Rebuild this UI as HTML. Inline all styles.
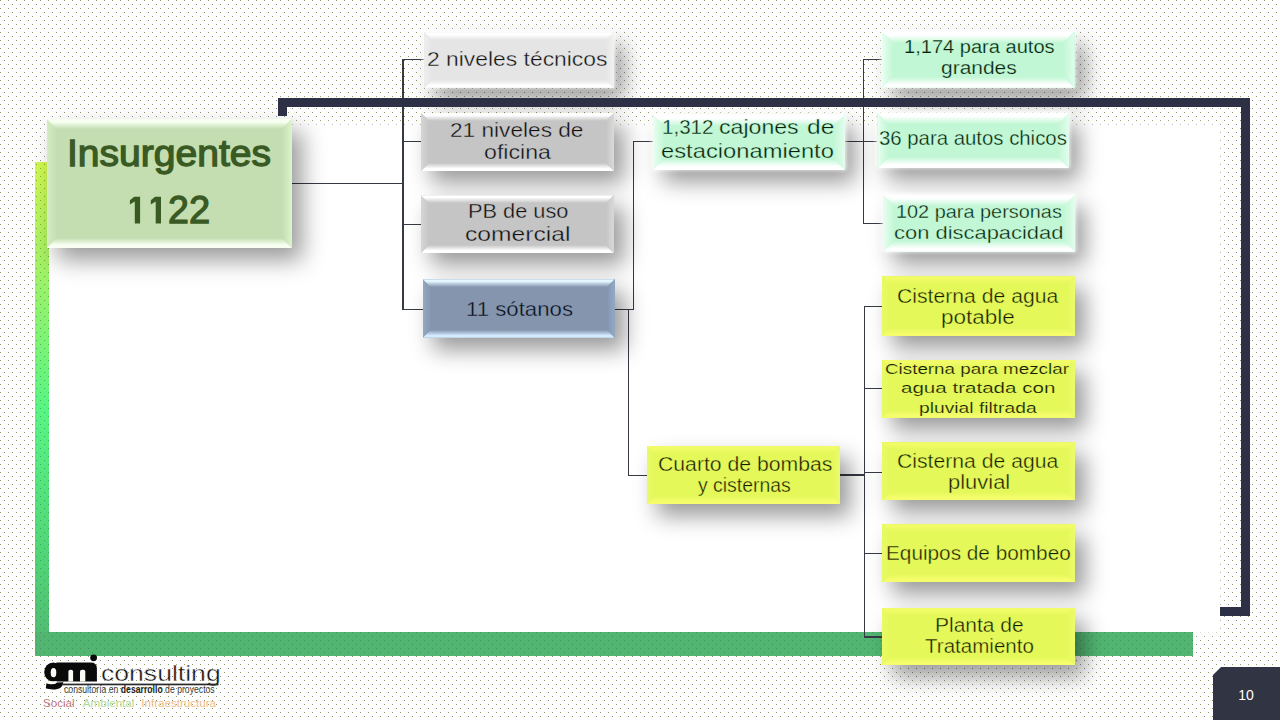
<!DOCTYPE html>
<html><head><meta charset="utf-8">
<style>
html,body{margin:0;padding:0;}
body{width:1280px;height:720px;overflow:hidden;position:relative;background:#fff;font-family:"Liberation Sans",sans-serif;}
.a{position:absolute;}
.t{position:absolute;white-space:nowrap;line-height:0;transform-origin:0 0;}
.bx{position:absolute;box-sizing:border-box;}
.bv{position:absolute;left:0;top:0;right:0;bottom:0;}
.ln{position:absolute;background:#363a44;}
</style></head><body>

<svg class="a" style="left:0;top:0" width="1280" height="720">
<defs><pattern id="dots" x="0" y="0" width="8" height="8" patternUnits="userSpaceOnUse">
<rect x="0" y="0" width="1" height="1" fill="#7a8542"/><rect x="4" y="4" width="1" height="1" fill="#737a58"/>
</pattern></defs>
<rect width="1280" height="720" fill="url(#dots)" opacity="0.85"/>
</svg>

<div class="a" style="left:49px;top:127px;width:1168px;height:505px;background:#fff;box-shadow:0 0 6px 2px #fff"></div>
<div class="a" style="left:35px;top:162px;width:14px;height:494px;background:linear-gradient(180deg,#d2f84e 0%,#a2f166 22%,#58f584 50%,#50d276 82%,#52b672 100%)"></div>
<div class="a" style="left:35px;top:632px;width:1158px;height:24px;background:#52b672"></div>
<svg class="a" style="left:0;top:0" width="1280" height="720"><defs><pattern id="dots2" x="0" y="0" width="8" height="8" patternUnits="userSpaceOnUse"><rect x="0" y="0" width="1" height="1" fill="#2f7a3a"/><rect x="4" y="4" width="1" height="1" fill="#2f7a3a"/></pattern></defs><path d="M35 162 H49 V632 H1193 V656 H35 Z" fill="url(#dots2)" opacity="0.55"/></svg>
<div class="a" style="left:1213px;top:667px;width:67px;height:53px;background:#313443;clip-path:polygon(8px 0,100% 0,100% 100%,0 100%,0 8px)"></div>
<div class="t" style="left:1238.3px;top:695.2px;font-size:14px;color:#fff">10</div>
<div class="ln" style="left:292px;top:182.7px;width:111.6px;height:1.2px"></div>
<div class="ln" style="left:403px;top:58.9px;width:21.6px;height:1.2px"></div>
<div class="ln" style="left:403px;top:141px;width:18.6px;height:1.2px"></div>
<div class="ln" style="left:403px;top:223.6px;width:18.6px;height:1.2px"></div>
<div class="ln" style="left:403px;top:308.8px;width:20.6px;height:1.2px"></div>
<div class="ln" style="left:614.5px;top:308.6px;width:19.4px;height:1.2px"></div>
<div class="ln" style="left:633.3px;top:141.1px;width:19.8px;height:1.2px"></div>
<div class="ln" style="left:628.5px;top:475px;width:18.7px;height:1.2px"></div>
<div class="ln" style="left:845px;top:141px;width:19.1px;height:1.2px"></div>
<div class="ln" style="left:863.5px;top:58.7px;width:18.6px;height:1.2px"></div>
<div class="ln" style="left:863.5px;top:141px;width:14.5px;height:1.2px"></div>
<div class="ln" style="left:863.5px;top:222.7px;width:20.1px;height:1.2px"></div>
<div class="ln" style="left:839.8px;top:474.4px;width:25.2px;height:1.2px"></div>
<div class="ln" style="left:864.4px;top:305.6px;width:18.2px;height:1.2px"></div>
<div class="ln" style="left:864.4px;top:388.3px;width:18.2px;height:1.2px"></div>
<div class="ln" style="left:864.4px;top:471.7px;width:18.2px;height:1.2px"></div>
<div class="ln" style="left:864.4px;top:553.1px;width:18.2px;height:1.2px"></div>
<div class="ln" style="left:864.4px;top:636.4px;width:18.2px;height:1.2px"></div>
<div class="ln" style="left:402.4px;top:58.9px;width:1.2px;height:251.1px"></div>
<div class="ln" style="left:632.7px;top:141.1px;width:1.2px;height:168.7px"></div>
<div class="ln" style="left:627.9px;top:308.6px;width:1.2px;height:167.6px"></div>
<div class="ln" style="left:862.9px;top:58.7px;width:1.2px;height:165.2px"></div>
<div class="ln" style="left:863.8px;top:305.6px;width:1.2px;height:332px"></div>
<div class="bx" style="left:46.5px;top:119px;width:245.5px;height:129px;background:#c4deb1;box-shadow:10px 12px 22px rgba(0,0,0,0.4)">
<div class="bv" style="clip-path:polygon(0 0,100% 0,calc(100% - 10px) 10px,10px 10px);background:linear-gradient(180deg,#f6fff0 0,#f6fff0 3.0px,#c4deb1 10px)"></div>
<div class="bv" style="clip-path:polygon(0 100%,100% 100%,calc(100% - 10px) calc(100% - 10px),10px calc(100% - 10px));background:linear-gradient(0deg,#f8fff2 0,#f8fff2 3.0px,#c4deb1 10px)"></div>
<div class="bv" style="clip-path:polygon(0 0,10px 10px,10px calc(100% - 10px),0 100%);background:linear-gradient(90deg,#d4ecc2 0,#c4deb1 10px)"></div>
<div class="bv" style="clip-path:polygon(100% 0,calc(100% - 10px) 10px,calc(100% - 10px) calc(100% - 10px),100% 100%);background:linear-gradient(270deg,#dcf4cc 0,#c4deb1 10px)"></div>
</div>
<div class="bx" style="left:424.4px;top:32.2px;width:189.6px;height:55.6px;background:#e5e5e5;box-shadow:0 -1px 4px 1px rgba(255,255,255,.9),10px 12px 22px rgba(0,0,0,0.4)">
<div class="bv" style="clip-path:polygon(0 0,100% 0,calc(100% - 8px) 8px,8px 8px);background:linear-gradient(180deg,#ffffff 0,#ffffff 2.4px,#e5e5e5 8px)"></div>
<div class="bv" style="clip-path:polygon(0 100%,100% 100%,calc(100% - 8px) calc(100% - 8px),8px calc(100% - 8px));background:linear-gradient(0deg,#ffffff 0,#ffffff 2.4px,#e5e5e5 8px)"></div>
<div class="bv" style="clip-path:polygon(0 0,8px 8px,8px calc(100% - 8px),0 100%);background:linear-gradient(90deg,#efefef 0,#e5e5e5 8px)"></div>
<div class="bv" style="clip-path:polygon(100% 0,calc(100% - 8px) 8px,calc(100% - 8px) calc(100% - 8px),100% 100%);background:linear-gradient(270deg,#f2f2f2 0,#e5e5e5 8px)"></div>
</div>
<div class="bx" style="left:421px;top:113px;width:193px;height:58px;background:#c5c5c5;box-shadow:10px 12px 22px rgba(0,0,0,0.4)">
<div class="bv" style="clip-path:polygon(0 0,100% 0,calc(100% - 8px) 8px,8px 8px);background:linear-gradient(180deg,#ffffff 0,#ffffff 2.4px,#c5c5c5 8px)"></div>
<div class="bv" style="clip-path:polygon(0 100%,100% 100%,calc(100% - 8px) calc(100% - 8px),8px calc(100% - 8px));background:linear-gradient(0deg,#ffffff 0,#ffffff 2.4px,#c5c5c5 8px)"></div>
<div class="bv" style="clip-path:polygon(0 0,8px 8px,8px calc(100% - 8px),0 100%);background:linear-gradient(90deg,#d6d6d6 0,#c5c5c5 8px)"></div>
<div class="bv" style="clip-path:polygon(100% 0,calc(100% - 8px) 8px,calc(100% - 8px) calc(100% - 8px),100% 100%);background:linear-gradient(270deg,#dadada 0,#c5c5c5 8px)"></div>
</div>
<div class="bx" style="left:420.7px;top:195.3px;width:193.1px;height:57.9px;background:#c5c5c5;box-shadow:10px 12px 22px rgba(0,0,0,0.4)">
<div class="bv" style="clip-path:polygon(0 0,100% 0,calc(100% - 8px) 8px,8px 8px);background:linear-gradient(180deg,#ffffff 0,#ffffff 2.4px,#c5c5c5 8px)"></div>
<div class="bv" style="clip-path:polygon(0 100%,100% 100%,calc(100% - 8px) calc(100% - 8px),8px calc(100% - 8px));background:linear-gradient(0deg,#ffffff 0,#ffffff 2.4px,#c5c5c5 8px)"></div>
<div class="bv" style="clip-path:polygon(0 0,8px 8px,8px calc(100% - 8px),0 100%);background:linear-gradient(90deg,#d6d6d6 0,#c5c5c5 8px)"></div>
<div class="bv" style="clip-path:polygon(100% 0,calc(100% - 8px) 8px,calc(100% - 8px) calc(100% - 8px),100% 100%);background:linear-gradient(270deg,#dadada 0,#c5c5c5 8px)"></div>
</div>
<div class="bx" style="left:422.6px;top:279.2px;width:192.2px;height:58.5px;background:#8595ad;box-shadow:10px 12px 22px rgba(0,0,0,0.4)">
<div class="bv" style="clip-path:polygon(0 0,100% 0,calc(100% - 8px) 8px,8px 8px);background:linear-gradient(180deg,#e4f6ff 0,#e4f6ff 2.4px,#8595ad 8px)"></div>
<div class="bv" style="clip-path:polygon(0 100%,100% 100%,calc(100% - 8px) calc(100% - 8px),8px calc(100% - 8px));background:linear-gradient(0deg,#d4ecff 0,#d4ecff 2.4px,#8595ad 8px)"></div>
<div class="bv" style="clip-path:polygon(0 0,8px 8px,8px calc(100% - 8px),0 100%);background:linear-gradient(90deg,#95a9c2 0,#8595ad 8px)"></div>
<div class="bv" style="clip-path:polygon(100% 0,calc(100% - 8px) 8px,calc(100% - 8px) calc(100% - 8px),100% 100%);background:linear-gradient(270deg,#93abc9 0,#8595ad 8px)"></div>
</div>
<div class="bx" style="left:652.5px;top:114.5px;width:192.5px;height:55.8px;background:#c2f7d5;box-shadow:0 -1px 4px 1px rgba(255,255,255,.9),10px 12px 22px rgba(0,0,0,0.4)">
<div class="bv" style="clip-path:polygon(0 0,100% 0,calc(100% - 11px) 11px,11px 11px);background:linear-gradient(180deg,#ffffff 0,#ffffff 3.3px,#c2f7d5 11px)"></div>
<div class="bv" style="clip-path:polygon(0 100%,100% 100%,calc(100% - 11px) calc(100% - 11px),11px calc(100% - 11px));background:linear-gradient(0deg,#ffffff 0,#ffffff 3.3px,#c2f7d5 11px)"></div>
<div class="bv" style="clip-path:polygon(0 0,11px 11px,11px calc(100% - 11px),0 100%);background:linear-gradient(90deg,#eafff2 0,#c2f7d5 11px)"></div>
<div class="bv" style="clip-path:polygon(100% 0,calc(100% - 11px) 11px,calc(100% - 11px) calc(100% - 11px),100% 100%);background:linear-gradient(270deg,#e4fdee 0,#c2f7d5 11px)"></div>
</div>
<div class="bx" style="left:646.6px;top:445.7px;width:193.2px;height:58.3px;background:#e4f85a;box-shadow:10px 12px 22px rgba(0,0,0,0.4)">
<div class="bv" style="clip-path:polygon(0 0,100% 0,calc(100% - 8px) 8px,8px 8px);background:linear-gradient(180deg,#f2fb68 0,#f2fb68 2.4px,#e4f85a 8px)"></div>
<div class="bv" style="clip-path:polygon(0 100%,100% 100%,calc(100% - 8px) calc(100% - 8px),8px calc(100% - 8px));background:linear-gradient(0deg,#f5fd6c 0,#f5fd6c 2.4px,#e4f85a 8px)"></div>
<div class="bv" style="clip-path:polygon(0 0,8px 8px,8px calc(100% - 8px),0 100%);background:linear-gradient(90deg,#e9fa66 0,#e4f85a 8px)"></div>
<div class="bv" style="clip-path:polygon(100% 0,calc(100% - 8px) 8px,calc(100% - 8px) calc(100% - 8px),100% 100%);background:linear-gradient(270deg,#edfb6c 0,#e4f85a 8px)"></div>
</div>
<div class="bx" style="left:881.5px;top:31.5px;width:193px;height:56.3px;background:#c2f7d5;box-shadow:0 -1px 4px 1px rgba(255,255,255,.9),10px 12px 22px rgba(0,0,0,0.4)">
<div class="bv" style="clip-path:polygon(0 0,100% 0,calc(100% - 11px) 11px,11px 11px);background:linear-gradient(180deg,#ffffff 0,#ffffff 3.3px,#c2f7d5 11px)"></div>
<div class="bv" style="clip-path:polygon(0 100%,100% 100%,calc(100% - 11px) calc(100% - 11px),11px calc(100% - 11px));background:linear-gradient(0deg,#ffffff 0,#ffffff 3.3px,#c2f7d5 11px)"></div>
<div class="bv" style="clip-path:polygon(0 0,11px 11px,11px calc(100% - 11px),0 100%);background:linear-gradient(90deg,#eafff2 0,#c2f7d5 11px)"></div>
<div class="bv" style="clip-path:polygon(100% 0,calc(100% - 11px) 11px,calc(100% - 11px) calc(100% - 11px),100% 100%);background:linear-gradient(270deg,#e4fdee 0,#c2f7d5 11px)"></div>
</div>
<div class="bx" style="left:877.4px;top:113px;width:191.9px;height:55.4px;background:#c2f7d5;box-shadow:0 -1px 4px 1px rgba(255,255,255,.9),10px 12px 22px rgba(0,0,0,0.4)">
<div class="bv" style="clip-path:polygon(0 0,100% 0,calc(100% - 11px) 11px,11px 11px);background:linear-gradient(180deg,#ffffff 0,#ffffff 3.3px,#c2f7d5 11px)"></div>
<div class="bv" style="clip-path:polygon(0 100%,100% 100%,calc(100% - 11px) calc(100% - 11px),11px calc(100% - 11px));background:linear-gradient(0deg,#ffffff 0,#ffffff 3.3px,#c2f7d5 11px)"></div>
<div class="bv" style="clip-path:polygon(0 0,11px 11px,11px calc(100% - 11px),0 100%);background:linear-gradient(90deg,#eafff2 0,#c2f7d5 11px)"></div>
<div class="bv" style="clip-path:polygon(100% 0,calc(100% - 11px) 11px,calc(100% - 11px) calc(100% - 11px),100% 100%);background:linear-gradient(270deg,#e4fdee 0,#c2f7d5 11px)"></div>
</div>
<div class="bx" style="left:883.1px;top:195px;width:192.2px;height:56.8px;background:#c2f7d5;box-shadow:0 -1px 4px 1px rgba(255,255,255,.9),10px 12px 22px rgba(0,0,0,0.4)">
<div class="bv" style="clip-path:polygon(0 0,100% 0,calc(100% - 11px) 11px,11px 11px);background:linear-gradient(180deg,#ffffff 0,#ffffff 3.3px,#c2f7d5 11px)"></div>
<div class="bv" style="clip-path:polygon(0 100%,100% 100%,calc(100% - 11px) calc(100% - 11px),11px calc(100% - 11px));background:linear-gradient(0deg,#ffffff 0,#ffffff 3.3px,#c2f7d5 11px)"></div>
<div class="bv" style="clip-path:polygon(0 0,11px 11px,11px calc(100% - 11px),0 100%);background:linear-gradient(90deg,#eafff2 0,#c2f7d5 11px)"></div>
<div class="bv" style="clip-path:polygon(100% 0,calc(100% - 11px) 11px,calc(100% - 11px) calc(100% - 11px),100% 100%);background:linear-gradient(270deg,#e4fdee 0,#c2f7d5 11px)"></div>
</div>
<div class="bx" style="left:882px;top:276.4px;width:192.9px;height:59.3px;background:#e4f85a;box-shadow:10px 12px 22px rgba(0,0,0,0.4)">
<div class="bv" style="clip-path:polygon(0 0,100% 0,calc(100% - 8px) 8px,8px 8px);background:linear-gradient(180deg,#f2fb68 0,#f2fb68 2.4px,#e4f85a 8px)"></div>
<div class="bv" style="clip-path:polygon(0 100%,100% 100%,calc(100% - 8px) calc(100% - 8px),8px calc(100% - 8px));background:linear-gradient(0deg,#f5fd6c 0,#f5fd6c 2.4px,#e4f85a 8px)"></div>
<div class="bv" style="clip-path:polygon(0 0,8px 8px,8px calc(100% - 8px),0 100%);background:linear-gradient(90deg,#e9fa66 0,#e4f85a 8px)"></div>
<div class="bv" style="clip-path:polygon(100% 0,calc(100% - 8px) 8px,calc(100% - 8px) calc(100% - 8px),100% 100%);background:linear-gradient(270deg,#edfb6c 0,#e4f85a 8px)"></div>
</div>
<div class="bx" style="left:882.4px;top:360px;width:192.5px;height:57.7px;background:#e4f85a;box-shadow:10px 12px 22px rgba(0,0,0,0.4)">
<div class="bv" style="clip-path:polygon(0 0,100% 0,calc(100% - 8px) 8px,8px 8px);background:linear-gradient(180deg,#f2fb68 0,#f2fb68 2.4px,#e4f85a 8px)"></div>
<div class="bv" style="clip-path:polygon(0 100%,100% 100%,calc(100% - 8px) calc(100% - 8px),8px calc(100% - 8px));background:linear-gradient(0deg,#f5fd6c 0,#f5fd6c 2.4px,#e4f85a 8px)"></div>
<div class="bv" style="clip-path:polygon(0 0,8px 8px,8px calc(100% - 8px),0 100%);background:linear-gradient(90deg,#e9fa66 0,#e4f85a 8px)"></div>
<div class="bv" style="clip-path:polygon(100% 0,calc(100% - 8px) 8px,calc(100% - 8px) calc(100% - 8px),100% 100%);background:linear-gradient(270deg,#edfb6c 0,#e4f85a 8px)"></div>
</div>
<div class="bx" style="left:882px;top:442.4px;width:193px;height:58.1px;background:#e4f85a;box-shadow:10px 12px 22px rgba(0,0,0,0.4)">
<div class="bv" style="clip-path:polygon(0 0,100% 0,calc(100% - 8px) 8px,8px 8px);background:linear-gradient(180deg,#f2fb68 0,#f2fb68 2.4px,#e4f85a 8px)"></div>
<div class="bv" style="clip-path:polygon(0 100%,100% 100%,calc(100% - 8px) calc(100% - 8px),8px calc(100% - 8px));background:linear-gradient(0deg,#f5fd6c 0,#f5fd6c 2.4px,#e4f85a 8px)"></div>
<div class="bv" style="clip-path:polygon(0 0,8px 8px,8px calc(100% - 8px),0 100%);background:linear-gradient(90deg,#e9fa66 0,#e4f85a 8px)"></div>
<div class="bv" style="clip-path:polygon(100% 0,calc(100% - 8px) 8px,calc(100% - 8px) calc(100% - 8px),100% 100%);background:linear-gradient(270deg,#edfb6c 0,#e4f85a 8px)"></div>
</div>
<div class="bx" style="left:882.4px;top:524.4px;width:193.1px;height:58.1px;background:#e4f85a;box-shadow:10px 12px 22px rgba(0,0,0,0.4)">
<div class="bv" style="clip-path:polygon(0 0,100% 0,calc(100% - 8px) 8px,8px 8px);background:linear-gradient(180deg,#f2fb68 0,#f2fb68 2.4px,#e4f85a 8px)"></div>
<div class="bv" style="clip-path:polygon(0 100%,100% 100%,calc(100% - 8px) calc(100% - 8px),8px calc(100% - 8px));background:linear-gradient(0deg,#f5fd6c 0,#f5fd6c 2.4px,#e4f85a 8px)"></div>
<div class="bv" style="clip-path:polygon(0 0,8px 8px,8px calc(100% - 8px),0 100%);background:linear-gradient(90deg,#e9fa66 0,#e4f85a 8px)"></div>
<div class="bv" style="clip-path:polygon(100% 0,calc(100% - 8px) 8px,calc(100% - 8px) calc(100% - 8px),100% 100%);background:linear-gradient(270deg,#edfb6c 0,#e4f85a 8px)"></div>
</div>
<div class="bx" style="left:882px;top:608px;width:193px;height:57.3px;background:#e4f85a;box-shadow:10px 12px 22px rgba(0,0,0,0.4)">
<div class="bv" style="clip-path:polygon(0 0,100% 0,calc(100% - 8px) 8px,8px 8px);background:linear-gradient(180deg,#f2fb68 0,#f2fb68 2.4px,#e4f85a 8px)"></div>
<div class="bv" style="clip-path:polygon(0 100%,100% 100%,calc(100% - 8px) calc(100% - 8px),8px calc(100% - 8px));background:linear-gradient(0deg,#f5fd6c 0,#f5fd6c 2.4px,#e4f85a 8px)"></div>
<div class="bv" style="clip-path:polygon(0 0,8px 8px,8px calc(100% - 8px),0 100%);background:linear-gradient(90deg,#e9fa66 0,#e4f85a 8px)"></div>
<div class="bv" style="clip-path:polygon(100% 0,calc(100% - 8px) 8px,calc(100% - 8px) calc(100% - 8px),100% 100%);background:linear-gradient(270deg,#edfb6c 0,#e4f85a 8px)"></div>
</div>
<div class="a" style="left:278px;top:98px;width:972px;height:9px;background:#2e3146"></div>
<div class="a" style="left:278px;top:98px;width:9px;height:17.5px;background:#2e3146"></div>
<div class="a" style="left:1241px;top:98px;width:9px;height:517.5px;background:#2e3146"></div>
<div class="a" style="left:1220px;top:607px;width:30px;height:8.5px;background:#2e3146"></div>
<div class="t" style="left:63.5px;top:690.133px;font-size:10px;color:#3a3a3a;transform:scaleX(0.866)"><span>consultoría en </span><b style="color:#222">desarrollo</b><span> de proyectos</span></div>
<div class="t" style="left:43.0px;top:703.0782800000001px;font-size:11.6px;color:#c27480">Social</div>
<div class="t" style="left:82.80000000000001px;top:703.0782800000001px;font-size:11.6px;color:#b3d995">Ambiental</div>
<div class="t" style="left:141.3px;top:703.0782800000001px;font-size:11.6px;color:#efbc88">Infraestructura</div>
<div class="t" style="left:66.67px;top:153.57px;font-size:37px;color:#3a5a24;-webkit-text-stroke:1.3px #3a5a24;transform:scaleX(1.0553)">Insurgentes</div>
<div class="t" style="left:168.06px;top:210.25px;font-size:38.5px;color:#3a5a24;-webkit-text-stroke:1.3px #3a5a24;transform:scaleX(0.9725)">2</div>
<div class="t" style="left:189.14px;top:210.25px;font-size:38.5px;color:#3a5a24;-webkit-text-stroke:1.3px #3a5a24;transform:scaleX(0.9884)">2</div>
<div class="t" style="left:427.46px;top:58.66px;font-size:20.6px;color:#111111;-webkit-text-stroke:0.35px #e5e5e5;transform:scaleX(1.1101)">2 niveles técnicos</div>
<div class="t" style="left:450.37px;top:129.76px;font-size:20.6px;color:#111111;-webkit-text-stroke:0.35px #c5c5c5;transform:scaleX(1.0995)">21 niveles de</div>
<div class="t" style="left:484.07px;top:152.26px;font-size:20.6px;color:#111111;-webkit-text-stroke:0.35px #c5c5c5;transform:scaleX(1.1242)">oficina</div>
<div class="t" style="left:467.56px;top:211.26px;font-size:20.6px;color:#111111;-webkit-text-stroke:0.35px #c5c5c5;transform:scaleX(1.0573)">PB de uso</div>
<div class="t" style="left:464.81px;top:234.46px;font-size:20.6px;color:#111111;-webkit-text-stroke:0.35px #c5c5c5;transform:scaleX(1.1967)">comercial</div>
<div class="t" style="left:466.03px;top:308.76px;font-size:20.6px;color:#081020;-webkit-text-stroke:0.35px #8595ad;transform:scaleX(1.0781)">11 sótanos</div>
<div class="t" style="left:661.66px;top:127.46px;font-size:20.6px;color:#03200c;-webkit-text-stroke:0.35px #c2f7d5;transform:scaleX(0.9995)">1,312</div>
<div class="t" style="left:718.68px;top:127.46px;font-size:20.6px;color:#03200c;-webkit-text-stroke:0.35px #c2f7d5;transform:scaleX(1.1221)">cajones</div>
<div class="t" style="left:806.92px;top:127.46px;font-size:20.6px;color:#03200c;-webkit-text-stroke:0.35px #c2f7d5;transform:scaleX(1.1935)">de</div>
<div class="t" style="left:661.15px;top:151.16px;font-size:20.6px;color:#03200c;-webkit-text-stroke:0.35px #c2f7d5;transform:scaleX(1.1529)">estacionamiento</div>
<div class="t" style="left:658.34px;top:463.87px;font-size:20px;color:#161c02;-webkit-text-stroke:0.35px #e4f85a;transform:scaleX(1.0602)">Cuarto de bombas</div>
<div class="t" style="left:698.1px;top:484.77px;font-size:20px;color:#161c02;-webkit-text-stroke:0.35px #e4f85a;transform:scaleX(0.9694)">y cisternas</div>
<div class="t" style="left:904.29px;top:47.3px;font-size:17.6px;color:#03200c;-webkit-text-stroke:0.25px #c2f7d5;transform:scaleX(1.1402)">1,174 para autos</div>
<div class="t" style="left:940.86px;top:68.4px;font-size:17.6px;color:#03200c;-webkit-text-stroke:0.25px #c2f7d5;transform:scaleX(1.1909)">grandes</div>
<div class="t" style="left:878.69px;top:138.44px;font-size:19.8px;color:#03200c;-webkit-text-stroke:0.35px #c2f7d5;transform:scaleX(1.0289)">36 para autos chicos</div>
<div class="t" style="left:896.01px;top:212.24px;font-size:19.2px;color:#03200c;-webkit-text-stroke:0.35px #c2f7d5;transform:scaleX(1.0363)">102 para personas</div>
<div class="t" style="left:893.92px;top:232.54px;font-size:19.2px;color:#03200c;-webkit-text-stroke:0.35px #c2f7d5;transform:scaleX(1.1428)">con discapacidad</div>
<div class="t" style="left:897.24px;top:296.2px;font-size:19.6px;color:#161c02;-webkit-text-stroke:0.35px #e4f85a;transform:scaleX(1.0804)">Cisterna de agua</div>
<div class="t" style="left:941.44px;top:316.6px;font-size:19.6px;color:#161c02;-webkit-text-stroke:0.35px #e4f85a;transform:scaleX(1.1492)">potable</div>
<div class="t" style="left:885.46px;top:369.17px;font-size:14.8px;color:#161c02;-webkit-text-stroke:0.18px #e4f85a;transform:scaleX(1.2707)">Cisterna para mezclar</div>
<div class="t" style="left:900.68px;top:387.97px;font-size:14.8px;color:#161c02;-webkit-text-stroke:0.18px #e4f85a;transform:scaleX(1.3897)">agua tratada con</div>
<div class="t" style="left:918.55px;top:407.87px;font-size:14.8px;color:#161c02;-webkit-text-stroke:0.18px #e4f85a;transform:scaleX(1.3000)">pluvial filtrada</div>
<div class="t" style="left:897.24px;top:461.1px;font-size:19.6px;color:#161c02;-webkit-text-stroke:0.35px #e4f85a;transform:scaleX(1.0804)">Cisterna de agua</div>
<div class="t" style="left:948.17px;top:481.8px;font-size:19.6px;color:#161c02;-webkit-text-stroke:0.35px #e4f85a;transform:scaleX(1.1204)">pluvial</div>
<div class="t" style="left:886.34px;top:552.94px;font-size:19.8px;color:#161c02;-webkit-text-stroke:0.35px #e4f85a;transform:scaleX(1.0498)">Equipos de bombeo</div>
<div class="t" style="left:934.52px;top:624.8px;font-size:19.6px;color:#161c02;-webkit-text-stroke:0.35px #e4f85a;transform:scaleX(1.0714)">Planta de</div>
<div class="t" style="left:924.99px;top:645.8px;font-size:19.6px;color:#161c02;-webkit-text-stroke:0.35px #e4f85a;transform:scaleX(1.0487)">Tratamiento</div>
<div class="t" style="left:100.54px;top:673.67px;font-size:22px;color:#111111;-webkit-text-stroke:0.4px #fdfdfa;transform:scaleX(1.2080)">consulting</div>
<svg class="a" style="left:0;top:0" width="300" height="260"><polygon points="134.2,196.7 140.1,196.7 140.1,223.6 134.8,223.6 134.8,201.6 129.9,204.6 129.9,200.2" fill="#3a5a24"/><polygon points="155.1,196.7 161.0,196.7 161.0,223.6 155.7,223.6 155.7,201.6 150.8,204.6 150.8,200.2" fill="#3a5a24"/></svg>
<svg class="a" style="left:0;top:0" width="240" height="720">
<g fill="#0a0a0a">
<ellipse cx="53.3" cy="672" rx="9.1" ry="9.5"/>
<path d="M56.3 662.6 L90.5 662.6 Q96.9 662.6 96.9 668.5 L96.9 681.4 L56.3 681.4 Z"/>
<path d="M57 680 L63.2 680 L63.2 682 C63.2 687 59.5 689.5 53 689.5 C50.5 689.5 47.8 689 45.8 688.3 L46.4 683.2 C48 683.8 50.2 684.3 52.4 684.3 C55.5 684.3 57 683.3 57 681 Z"/>
<circle cx="93.6" cy="657.8" r="3.4"/>
</g>
<g fill="#fbfbf6">
<ellipse cx="53.5" cy="672.7" rx="2.8" ry="4.6"/>
<path d="M68.4 681.4 L68.4 671.5 Q68.4 669.8 70.4 669.8 L71.1 669.8 Q73.1 669.8 73.1 671.5 L73.1 681.4 Z"/>
<path d="M80 681.4 L80 671.5 Q80 669.8 82 669.8 L83.3 669.8 Q85.3 669.8 85.3 671.5 L85.3 681.4 Z"/>
<path d="M45 681.6 L63 681.6 L63 682.2 L46 683 Z" />
</g>
<rect x="62.5" y="683.6" width="156" height="1.7" fill="#2a2a2a"/>
</svg>
</body></html>
